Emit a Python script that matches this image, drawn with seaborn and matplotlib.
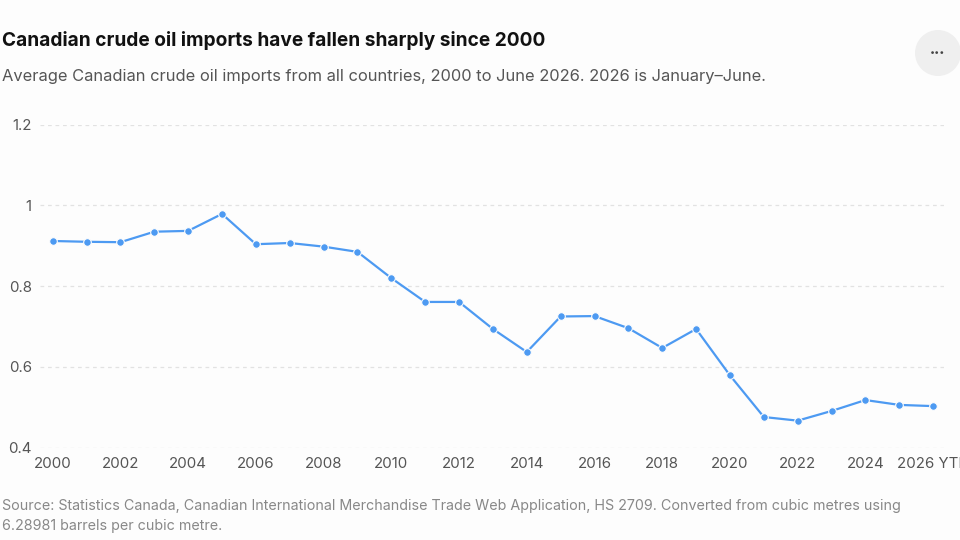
import matplotlib
matplotlib.use("Agg")
import matplotlib.pyplot as plt
import seaborn as sns
import pandas as pd
from matplotlib.patches import Circle

years = list(range(2000, 2027))
imports = [0.912, 0.910, 0.909, 0.935, 0.937, 0.979, 0.904, 0.907, 0.898, 0.885,
           0.820, 0.761, 0.761, 0.694, 0.637, 0.725, 0.726, 0.696, 0.647, 0.694,
           0.579, 0.476, 0.467, 0.491, 0.518, 0.506, 0.503]
xticks = list(range(2000, 2027, 2))
xtick_labels = [str(y) for y in range(2000, 2026, 2)] + ["2026 YTD"]
yticks = [0.4, 0.6, 0.8, 1.0, 1.2]
ytick_labels = ["0.4", "0.6", "0.8", "1", "1.2"]

title = "Canadian crude oil imports have fallen sharply since 2000"
subtitle = "Average Canadian crude oil imports from all countries, 2000 to June 2026. 2026 is January\u2013June."
source = ("Source: Statistics Canada, Canadian International Merchandise Trade Web Application, HS 2709. Converted from cubic metres using\n"
          "6.28981 barrels per cubic metre.")

df = pd.DataFrame({"year": years, "imports": imports})

sns.set_theme(style="white")
plt.rcParams["font.family"] = ["Inter", "DejaVu Sans"]
bg = "#fdfdfd"
fig = plt.figure(figsize=(9.6, 5.4), dpi=100, facecolor=bg)
ax = fig.add_axes([40/960, 1 - 447.7/540, (944-40)/960, (447.7-124.7)/540])
ax.set_facecolor(bg)

color = "#4d9af2"
sns.lineplot(data=df, x="year", y="imports", ax=ax, color=color, linewidth=1.6,
             marker="o", markersize=5.5, markeredgecolor=bg, markeredgewidth=0.8)

ax.set_xlim(1999.625, 2026.32)
ax.set_ylim(0.4, 1.2)
ax.set_yticks(yticks)
ax.set_yticklabels(ytick_labels)
ax.set_xticks(xticks)
ax.set_xticklabels(xtick_labels)
ax.set_xlabel("")
ax.set_ylabel("")
for s in ax.spines.values():
    s.set_visible(False)
ax.grid(axis="y", color="#e2e2e2", linestyle=(0, (3, 3)), linewidth=0.9)
ax.grid(axis="x", visible=False)
ax.tick_params(axis="both", length=0, labelsize=10.8, colors="#555555")
ax.tick_params(axis="y", pad=6)
ax.tick_params(axis="x", pad=6.5)

fig.text(2/960, 1 - 41/540, title, fontsize=13.75, fontweight="bold", color="#111111",
         va="center", ha="left")
fig.text(2/960, 1 - 77/540, subtitle, fontsize=11.85, color="#555555",
         va="center", ha="left")
fig.text(2/960, 1 - 516/540, source, fontsize=10.3, color="#888888",
         va="center", ha="left", linespacing=1.5)

circ = Circle((938/100, (540-53)/100), 0.23, transform=fig.dpi_scale_trans,
              facecolor="#efefef", edgecolor="none")
fig.patches.append(circ)
fig.text(938/960, 1 - 53/540, "\u2022\u2022\u2022", fontsize=6.5, color="#444444",
         ha="center", va="center")

fig.savefig("out.png", dpi=100, facecolor=bg)
